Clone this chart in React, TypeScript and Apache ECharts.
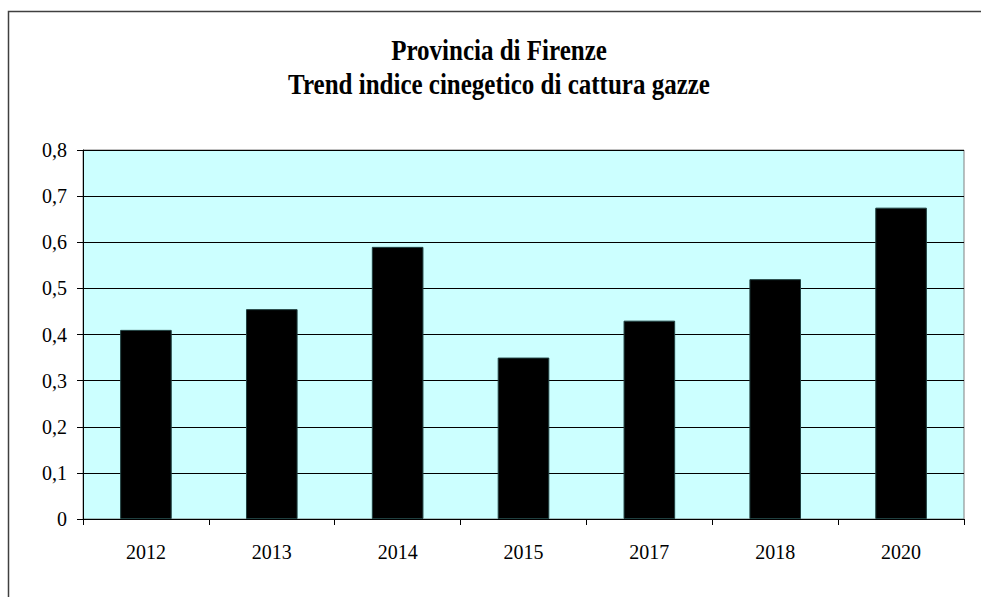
import React, { useEffect, useRef } from "react";
import * as echarts from "echarts";

const titleLines = ["Provincia di Firenze", "Trend indice cinegetico di cattura gazze"];
const categories = ["2012", "2013", "2014", "2015", "2017", "2018", "2020"];
const values = [0.41, 0.455, 0.59, 0.35, 0.43, 0.52, 0.675];
const yMin = 0;
const yMax = 0.8;
const yStep = 0.1;

export default function App() {
  const ref = useRef<HTMLDivElement>(null);
  useEffect(() => {
    if (!ref.current) return;
    const chart = echarts.init(ref.current, undefined, { renderer: "svg" });
    const font = "'Liberation Serif', 'Times New Roman', serif";
    const titleY = [50, 84];
    chart.setOption({
      animation: false,
      backgroundColor: "#ffffff",
      textStyle: { fontFamily: font },
      graphic: [
        {
          type: "rect",
          shape: { x: 8.5, y: 11.5, width: 1200, height: 800 },
          style: { fill: "none", stroke: "#404040", lineWidth: 1.5 },
          silent: true,
          z: -1,
        },
        ...titleLines.map((t, i) => ({
          type: "text",
          x: 499,
          y: titleY[i],
          scaleY: 1.2,
          style: {
            text: t,
            fontFamily: font,
            fontWeight: "bold",
            fontSize: 25,
            fill: "#000",
            align: "center",
            verticalAlign: "middle",
          },
          silent: true,
        })),
      ],
      grid: {
        left: 83,
        right: 17,
        top: 150,
        bottom: 78,
        show: true,
        backgroundColor: "#ccffff",
        borderColor: "#808080",
        borderWidth: 1,
      },
      xAxis: {
        type: "category",
        data: categories,
        axisLine: { show: true, lineStyle: { color: "#000", width: 1 } },
        axisTick: { show: true, length: 6, lineStyle: { color: "#000" } },
        axisLabel: { color: "#000", fontSize: 20, fontFamily: font, margin: 23 },
        splitLine: { show: false },
      },
      yAxis: {
        type: "value",
        min: yMin,
        max: yMax,
        interval: yStep,
        axisLine: { show: true, lineStyle: { color: "#000", width: 1 } },
        axisTick: { show: true, length: 6, lineStyle: { color: "#000" } },
        axisLabel: {
          color: "#000",
          fontSize: 20,
          fontFamily: font,
          margin: 16,
          formatter: (v: number) => (v === 0 ? "0" : v.toFixed(1).replace(".", ",")),
        },
        splitLine: { show: true, lineStyle: { color: "#000", width: 1 } },
      },
      series: [
        {
          type: "bar",
          data: values,
          barWidth: "41%",
          itemStyle: { color: "#000", borderColor: "#1f3f3f", borderWidth: 1 },
        },
      ],
    });
    return () => chart.dispose();
  }, []);
  return (
    <div
      ref={ref}
      style={{ position: "fixed", left: 0, top: 0, width: 981, height: 597 }}
    />
  );
}
